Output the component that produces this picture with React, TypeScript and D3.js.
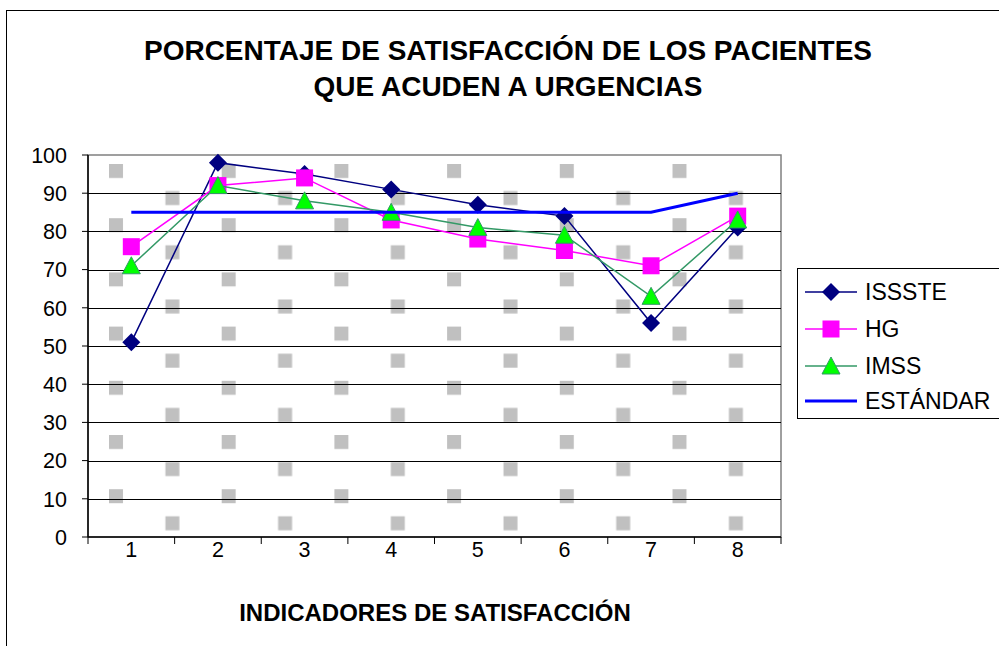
import { useEffect } from 'react'
import * as d3 from 'd3'

const categories = ['1', '2', '3', '4', '5', '6', '7', '8']
const issste = [51, 98, 95, 91, 87, 84, 56, 81]
const hg = [76, 92, 94, 83, 78, 75, 71, 84]
const imss = [71, 92, 88, 85, 81, 79, 63, 83]
const estandar = [85, 85, 85, 85, 85, 85, 85, 90]
const yTicks = [0, 10, 20, 30, 40, 50, 60, 70, 80, 90, 100]

const FONT = '"Liberation Sans", Arial, sans-serif'

const SERIES = [
  { name: 'ISSSTE', values: issste, color: '#000080', marker: 'diamond', width: 1.5 },
  { name: 'HG', values: hg, color: '#ff00ff', marker: 'square', width: 1.5 },
  { name: 'IMSS', values: imss, color: '#339966', marker: 'triangle', width: 1.5 },
  { name: 'ESTÁNDAR', values: estandar, color: '#0000ff', marker: 'none', width: 3 },
]

function Marker({ type, x, y }: { type: string; x: number; y: number }) {
  if (type === 'diamond') {
    return <path d={`M${x},${y - 9}L${x + 9},${y}L${x},${y + 9}L${x - 9},${y}Z`} fill="#000080" />
  }
  if (type === 'square') {
    return <rect x={x - 8.5} y={y - 8.5} width={17} height={17} fill="#ff00ff" />
  }
  if (type === 'triangle') {
    return (
      <path
        d={`M${x},${y - 9}L${x + 9},${y + 8}L${x - 9},${y + 8}Z`}
        fill="#00ff00"
        stroke="#339966"
        strokeWidth={1}
      />
    )
  }
  return null
}

export default function App() {
  useEffect(() => {
    document.body.style.margin = '0'
  }, [])

  const left = 88
  const right = 781
  const top = 155
  const bottom = 537

  const x = d3.scaleBand().domain(categories).range([left, right])
  const y = d3.scaleLinear().domain([0, 100]).range([bottom, top])
  const cx = (c: string) => (x(c) || 0) + x.bandwidth() / 2

  const line = d3
    .line<number>()
    .x((_, i) => cx(categories[i]))
    .y(d => y(d))

  return (
    <svg width={999} height={646} style={{ display: 'block', fontFamily: FONT }}>
      <defs>
        <pattern id="dots" patternUnits="userSpaceOnUse" x={109} y={164} width={112.7} height={54.2}>
          <rect x={0} y={0} width={14} height={14} fill="#c0c0c0" />
          <rect x={56.4} y={27.1} width={14} height={14} fill="#c0c0c0" />
        </pattern>
      </defs>
      <rect x={0} y={0} width={999} height={646} fill="#fff" />
      <rect x={6.5} y={10.5} width={1200} height={1000} fill="none" stroke="#000" strokeWidth={1} />

      <text x={508} y={60} textAnchor="middle" fontSize={28} fontWeight="bold">
        PORCENTAJE DE SATISFACCIÓN DE LOS PACIENTES
      </text>
      <text x={508} y={96} textAnchor="middle" fontSize={28} fontWeight="bold">
        QUE ACUDEN A URGENCIAS
      </text>

      {/* plot area */}
      <rect x={left} y={top} width={right - left} height={bottom - top} fill="url(#dots)" stroke="#808080" strokeWidth={1.5} />

      {yTicks.filter(t => t > 0 && t < 100).map(t => (
        <line key={t} x1={left} x2={right} y1={Math.round(y(t)) + 0.5} y2={Math.round(y(t)) + 0.5} stroke="#000" strokeWidth={1} />
      ))}

      {/* axes */}
      <line x1={left} x2={left} y1={top} y2={bottom} stroke="#000" strokeWidth={1.5} />
      <line x1={left} x2={right} y1={bottom} y2={bottom} stroke="#000" strokeWidth={1.5} />
      {yTicks.map(t => (
        <g key={t}>
          <line x1={left - 6} x2={left} y1={y(t)} y2={y(t)} stroke="#000" strokeWidth={1} />
          <text x={67} y={y(t)} dy="0.36em" textAnchor="end" fontSize={21.5}>
            {t}
          </text>
        </g>
      ))}
      {categories.map(c => (
        <g key={c}>
          <line x1={x(c)} x2={x(c)} y1={bottom} y2={bottom + 7} stroke="#000" strokeWidth={1} />
          <text x={cx(c)} y={557} textAnchor="middle" fontSize={21.5}>
            {c}
          </text>
        </g>
      ))}
      <line x1={right} x2={right} y1={bottom} y2={bottom + 7} stroke="#000" strokeWidth={1} />

      <text x={435} y={621} textAnchor="middle" fontSize={24} fontWeight="bold">
        INDICADORES DE SATISFACCIÓN
      </text>

      {/* series */}
      {SERIES.map(s => (
        <g key={s.name}>
          <path d={line(s.values) || ''} fill="none" stroke={s.color} strokeWidth={s.width} />
          {s.values.map((v, i) => (
            <Marker key={i} type={s.marker} x={cx(categories[i])} y={y(v)} />
          ))}
        </g>
      ))}

      {/* legend */}
      <rect x={797.5} y={268.5} width={220} height={150} fill="#fff" stroke="#000" strokeWidth={1} />
      {SERIES.map((s, i) => {
        const ly = [292, 329, 366, 401][i]
        return (
          <g key={s.name}>
            <line x1={805} x2={857} y1={ly} y2={ly} stroke={s.color} strokeWidth={s.width} />
            <Marker type={s.marker} x={831} y={ly} />
            <text x={865} y={ly} dy="0.36em" fontSize={23}>
              {s.name}
            </text>
          </g>
        )
      })}
    </svg>
  )
}
